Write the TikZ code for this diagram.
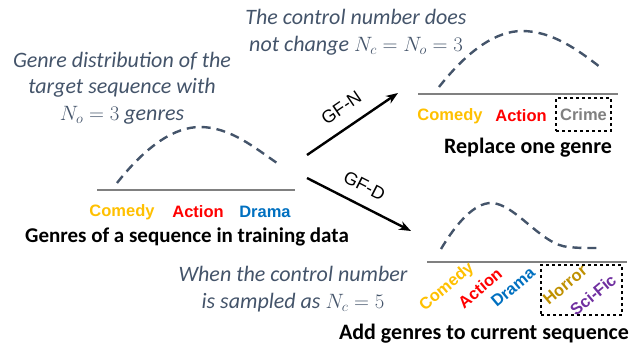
\documentclass[tikz,border=0pt]{standalone}
\usepackage{fontspec}
\setmainfont{Carlito}
\newfontfamily\arialfont{Liberation Sans}
\usetikzlibrary{arrows.meta,positioning}
\definecolor{slate}{HTML}{44546A}
\definecolor{comedy}{HTML}{FFC000}
\definecolor{action}{HTML}{FF0000}
\definecolor{drama}{HTML}{0070C0}
\definecolor{horror}{HTML}{BF9000}
\definecolor{scific}{HTML}{7030A0}
\definecolor{crime}{HTML}{808080}
\tikzset{
	note/.style={text=slate,font=\fontsize{22}{26.5}\selectfont\itshape,align=center},
	caption/.style={font=\fontsize{22}{24}\selectfont\bfseries},
	genre/.style={font=\arialfont\bfseries\fontsize{16.5}{16.5}\selectfont,inner sep=1pt},
	flowlabel/.style={font=\arialfont\fontsize{18}{18}\selectfont,sloped},
	curve/.style={slate,line width=2.4pt,dash pattern=on 9pt off 6pt},
	axis/.style={crime,line width=1.2pt},
	flow/.style={-{Stealth[length=12pt,width=9pt]},line width=2.4pt},
	pick/.style={draw=black,dashed,line width=1.4pt}
}
\begin{document}
\begin{tikzpicture}[x=1pt,y=-1pt]
	\useasboundingbox (0,0) rectangle (644,350);
	% left: the training sequence
	\begin{scope}[shift={(97,190)}]
		\draw[axis] (0,0) coordinate (Lstart) -- (198,0) coordinate (Lend);
		\draw[curve] (20,-7) .. controls (50,-45) and (78,-63) .. (103,-63)
			.. controls (133,-63) and (158,-42) .. (180,-27);
		\foreach \g/\c/\x in {Comedy/comedy/25,Action/action/101,Drama/drama/168}
		{
			\node[genre,text=\c] (L\g) at (\x,22) {\g};
		}
		\node[caption,font=\fontsize{21}{24}\selectfont\bfseries] (Lcap) at (90,47) {Genres of a sequence in training data};
		\node[note] (Lnote) at (25,-102) {Genre distribution of the\\target sequence with\\$N_o=3$ genres};
	\end{scope}
	% top right: GF-N
	\begin{scope}[shift={(418,94)}]
		\draw[axis] (0,0) coordinate (Nstart) -- (200,0) coordinate (Nend);
		\draw[curve] (21,-7) .. controls (51,-45) and (79,-63) .. (104,-63)
			.. controls (134,-63) and (160,-44) .. (182,-27);
		\node[genre,text=comedy] (NComedy) at (32,22) {Comedy};
		\node[genre,text=action] (NAction) at (103,22) {Action};
		\node[genre,text=crime,pick,minimum width=55pt,minimum height=33pt] (NCrime) at (165.5,20.5) {Crime};
		\node[caption] (Ncap) at (110,54) {Replace one genre};
		\node[note] (Nnote) at (-62,-62) {The control number does\\not change $N_c=N_o=3$};
	\end{scope}
	% bottom right: GF-D
	\begin{scope}[shift={(427,262)}]
		\draw[axis] (0,0) coordinate (Dstart) -- (200,0) coordinate (Dend);
		\draw[curve] (14,-13) .. controls (30,-40) and (48,-59) .. (64,-59)
			.. controls (88,-59) and (115,-16) .. (142,-15)
			.. controls (152,-14) .. (173,-14);
		\foreach \g/\c/\x/\y in {Comedy/comedy/20/25,Action/action/53/26,Drama/drama/86/25,Horror/horror/138/23,Sci-Fic/scific/166/33}
		{
			\node[genre,text=\c,rotate=40] (D\g) at (\x,\y) {\g};
		}
		\node[pick,minimum width=81pt,minimum height=50pt] (Dbox) at (154.5,28) {};
		\node[caption] (Dcap) at (57,72) {Add genres to current sequence};
		\node[note] (Dnote) at (-134,27) {When the control number\\is sampled as $N_c=5$};
	\end{scope}
	% arrows
	\coordinate (gfnS) at (307,155);
	\coordinate (gfnE) at (398,93);
	\coordinate (gfdS) at (307,178);
	\coordinate (gfdE) at (411,231);
	\draw[flow] (gfnS) -- node[flowlabel,above=9pt] (gfn) {GF-N} (gfnE);
	\draw[flow] (gfdS) -- node[flowlabel,above=8pt,pos=0.47] (gfd) {GF-D} (gfdE);
\end{tikzpicture}
\end{document}
